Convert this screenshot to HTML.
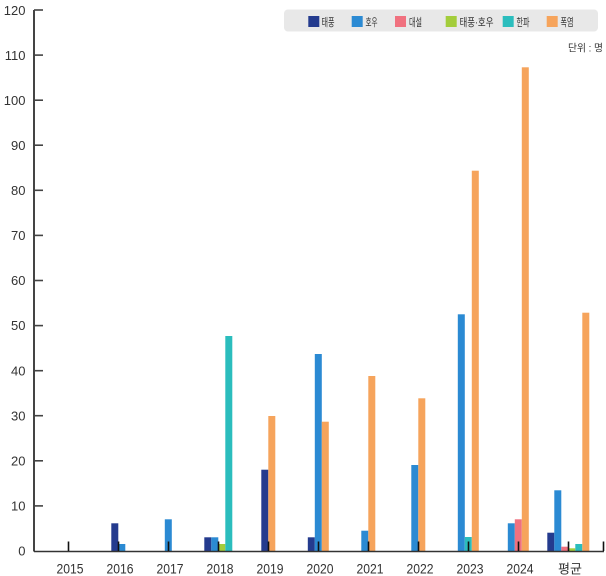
<!DOCTYPE html>
<html>
<head>
<meta charset="utf-8">
<style>
html,body{margin:0;padding:0;background:#fff;}
svg{display:block;}
text{font-family:"Liberation Sans","Noto Sans CJK KR",sans-serif;fill:#333;}
</style>
</head>
<body>
<svg width="606" height="576" viewBox="0 0 606 576" xmlns="http://www.w3.org/2000/svg">
  <!-- Y axis -->
  <line x1="34" y1="10" x2="34" y2="551.5" stroke="#444" stroke-width="2"/>
  <g stroke="#444" stroke-width="1.6">
    <line x1="34" y1="10" x2="43" y2="10"/>
    <line x1="34" y1="55.1" x2="43" y2="55.1"/>
    <line x1="34" y1="100.2" x2="43" y2="100.2"/>
    <line x1="34" y1="145.2" x2="43" y2="145.2"/>
    <line x1="34" y1="190.3" x2="43" y2="190.3"/>
    <line x1="34" y1="235.4" x2="43" y2="235.4"/>
    <line x1="34" y1="280.5" x2="43" y2="280.5"/>
    <line x1="34" y1="325.6" x2="43" y2="325.6"/>
    <line x1="34" y1="370.7" x2="43" y2="370.7"/>
    <line x1="34" y1="415.7" x2="43" y2="415.7"/>
    <line x1="34" y1="460.8" x2="43" y2="460.8"/>
    <line x1="34" y1="505.9" x2="43" y2="505.9"/>
  </g>
  <g font-size="13" text-anchor="end">
    <text x="25.5" y="15">120</text>
    <text x="25.5" y="60">110</text>
    <text x="25.5" y="105">100</text>
    <text x="25.5" y="150">90</text>
    <text x="25.5" y="195">80</text>
    <text x="25.5" y="240">70</text>
    <text x="25.5" y="285">60</text>
    <text x="25.5" y="330">50</text>
    <text x="25.5" y="375.5">40</text>
    <text x="25.5" y="420.5">30</text>
    <text x="25.5" y="465.5">20</text>
    <text x="25.5" y="510.5">10</text>
    <text x="25.5" y="555.5">0</text>
  </g>

  <!-- 2016 -->
  <rect x="111.3" y="523.3" width="7" height="27.7" fill="#243b8e"/>
  <rect x="118.3" y="544" width="7" height="7" fill="#2b8ad3"/>
  <!-- 2017 -->
  <rect x="164.8" y="519.3" width="7" height="31.7" fill="#2b8ad3"/>
  <!-- 2018 -->
  <rect x="204.3" y="537.3" width="7" height="13.7" fill="#243b8e"/>
  <rect x="211.3" y="537.3" width="7" height="13.7" fill="#2b8ad3"/>
  <rect x="218.3" y="544" width="7" height="7" fill="#a3cd3b"/>
  <rect x="225.3" y="336" width="7" height="215" fill="#2bbdbd"/>
  <!-- 2019 -->
  <rect x="261.3" y="469.7" width="7" height="81.3" fill="#243b8e"/>
  <rect x="268.3" y="416" width="7" height="135" fill="#f6a45c"/>
  <!-- 2020 -->
  <rect x="307.8" y="537.3" width="7" height="13.7" fill="#243b8e"/>
  <rect x="314.8" y="354" width="7" height="197" fill="#2b8ad3"/>
  <rect x="321.8" y="421.7" width="7" height="129.3" fill="#f6a45c"/>
  <!-- 2021 -->
  <rect x="361.3" y="530.7" width="7" height="20.3" fill="#2b8ad3"/>
  <rect x="368.3" y="376" width="7" height="175" fill="#f6a45c"/>
  <!-- 2022 -->
  <rect x="411.3" y="465" width="7" height="86" fill="#2b8ad3"/>
  <rect x="418.3" y="398.3" width="7" height="152.7" fill="#f6a45c"/>
  <!-- 2023 -->
  <rect x="457.8" y="314.3" width="7" height="236.7" fill="#2b8ad3"/>
  <rect x="464.8" y="537" width="7" height="14" fill="#2bbdbd"/>
  <rect x="471.8" y="170.7" width="7" height="380.3" fill="#f6a45c"/>
  <!-- 2024 -->
  <rect x="507.8" y="523.3" width="7" height="27.7" fill="#2b8ad3"/>
  <rect x="514.8" y="519.3" width="7" height="31.7" fill="#f0717f"/>
  <rect x="521.8" y="67.3" width="7" height="483.7" fill="#f6a45c"/>
  <!-- 평균 -->
  <rect x="547.3" y="532.7" width="7" height="18.3" fill="#243b8e"/>
  <rect x="554.3" y="490.3" width="7" height="60.7" fill="#2b8ad3"/>
  <rect x="561.3" y="546.7" width="7" height="4.3" fill="#f0717f"/>
  <rect x="568.3" y="548.3" width="7" height="2.7" fill="#a3cd3b"/>
  <rect x="575.3" y="544" width="7" height="7" fill="#2bbdbd"/>
  <rect x="582.3" y="312.7" width="7" height="238.3" fill="#f6a45c"/>

  <!-- X axis -->
  <line x1="34" y1="551.5" x2="604" y2="551.5" stroke="#333" stroke-width="1.6"/>
  <g stroke="#111" stroke-width="1.6">
    <line x1="68.5" y1="541.5" x2="68.5" y2="551"/>
    <line x1="118.5" y1="541.5" x2="118.5" y2="551"/>
    <line x1="168.5" y1="541.5" x2="168.5" y2="551"/>
    <line x1="218.5" y1="541.5" x2="218.5" y2="551"/>
    <line x1="268.5" y1="541.5" x2="268.5" y2="551"/>
    <line x1="318.5" y1="541.5" x2="318.5" y2="551"/>
    <line x1="368.5" y1="541.5" x2="368.5" y2="551"/>
    <line x1="418.5" y1="541.5" x2="418.5" y2="551"/>
    <line x1="468.5" y1="541.5" x2="468.5" y2="551"/>
    <line x1="518.5" y1="541.5" x2="518.5" y2="551"/>
    <line x1="568.5" y1="541.5" x2="568.5" y2="551"/>
    <line x1="603.5" y1="541.5" x2="603.5" y2="551"/>
  </g>
  <g font-size="14" text-anchor="middle">
    <text x="70" y="573.5" textLength="27" lengthAdjust="spacingAndGlyphs">2015</text>
    <text x="120" y="573.5" textLength="27" lengthAdjust="spacingAndGlyphs">2016</text>
    <text x="170" y="573.5" textLength="27" lengthAdjust="spacingAndGlyphs">2017</text>
    <text x="220" y="573.5" textLength="27" lengthAdjust="spacingAndGlyphs">2018</text>
    <text x="270" y="573.5" textLength="27" lengthAdjust="spacingAndGlyphs">2019</text>
    <text x="320" y="573.5" textLength="27" lengthAdjust="spacingAndGlyphs">2020</text>
    <text x="370" y="573.5" textLength="27" lengthAdjust="spacingAndGlyphs">2021</text>
    <text x="420" y="573.5" textLength="27" lengthAdjust="spacingAndGlyphs">2022</text>
    <text x="470" y="573.5" textLength="27" lengthAdjust="spacingAndGlyphs">2023</text>
    <text x="520" y="573.5" textLength="27" lengthAdjust="spacingAndGlyphs">2024</text>
    <text x="570" y="573.5" font-size="13" textLength="24" lengthAdjust="spacingAndGlyphs">평균</text>
  </g>

  <!-- Legend -->
  <rect x="284" y="9.5" width="314" height="22" rx="4" fill="#e8e8e8"/>
  <rect x="308.3" y="16" width="11" height="11" fill="#243b8e"/>
  <rect x="351.7" y="16" width="11" height="11" fill="#2b8ad3"/>
  <rect x="395" y="16" width="11" height="11" fill="#f0717f"/>
  <rect x="445.7" y="16" width="11" height="11" fill="#a3cd3b"/>
  <rect x="502.7" y="16" width="11" height="11" fill="#2bbdbd"/>
  <rect x="546.7" y="16" width="11" height="11" fill="#f6a45c"/>
  <g font-size="11">
    <text x="321.5" y="26" textLength="13" lengthAdjust="spacingAndGlyphs">태풍</text>
    <text x="365.5" y="26" textLength="12" lengthAdjust="spacingAndGlyphs">호우</text>
    <text x="409" y="26" textLength="13" lengthAdjust="spacingAndGlyphs">대설</text>
    <text x="459.5" y="26" textLength="34" lengthAdjust="spacingAndGlyphs">태풍·호우</text>
    <text x="516.5" y="26" textLength="13" lengthAdjust="spacingAndGlyphs">한파</text>
    <text x="560.5" y="26" textLength="13" lengthAdjust="spacingAndGlyphs">폭염</text>
  </g>
  <text x="603" y="51.5" font-size="10" text-anchor="end" textLength="35" lengthAdjust="spacingAndGlyphs">단위 : 명</text>
</svg>
</body>
</html>
